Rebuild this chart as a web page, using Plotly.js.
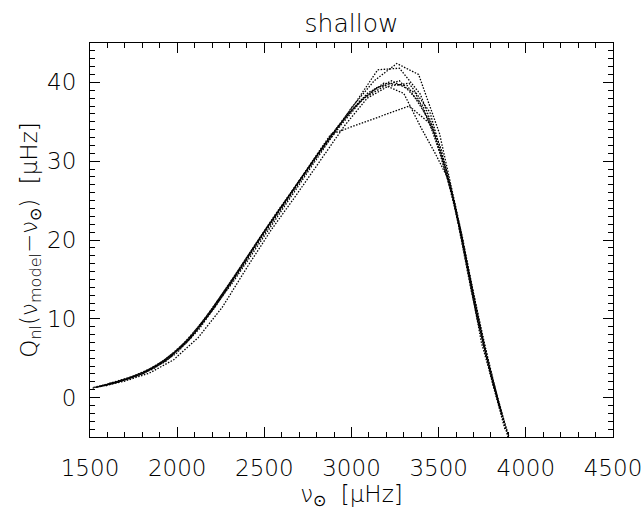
<!DOCTYPE html>
<html>
<head>
<meta charset="utf-8">
<script src="https://cdn.plot.ly/plotly-3.0.1.min.js"></script>
<style>html,body{margin:0;padding:0;background:#fff}#chart{width:641px;height:514px}</style>
</head>
<body>
<div id="chart"></div>
<script>
// Frequencies (muHz) and surface-corrected differences (muHz) for several mode sets
const nuA = [1520, 1655, 1790, 1925, 2060, 2195, 2330, 2465, 2600, 2735, 2870, 3005, 3140, 3275, 3410, 3545, 3680, 3815, 3950];
const qA  = [1.3, 2.0, 3.0, 4.7, 7.3, 11.1, 15.5, 20.0, 24.3, 28.6, 32.9, 36.6, 39.3, 40.2, 37.0, 28.9, 15.1, 1.6, -8.5];

const nuB = [1565, 1700, 1835, 1970, 2105, 2240, 2375, 2510, 2645, 2780, 2915, 3050, 3185, 3320, 3455, 3590, 3725, 3860];
const qB  = [1.5, 2.3, 3.5, 5.4, 8.4, 12.5, 16.7, 21.4, 25.7, 30.1, 34.2, 37.7, 39.9, 39.6, 34.9, 24.9, 10.2, -2.0];

const nuC = [1610, 1745, 1880, 2015, 2150, 2285, 2420, 2555, 2690, 2825, 2960, 3095, 3230, 3365, 3500, 3635, 3770, 3905];
const qC  = [1.8, 2.7, 4.0, 6.3, 9.7, 14.0, 18.5, 23.0, 27.2, 31.5, 35.4, 38.7, 40.2, 38.7, 32.3, 20.2, 5.6, -5.4];

const nuD = [1515, 1650, 1785, 1920, 2055, 2190, 2325, 2460, 2595, 2730, 2865, 3000, 3130, 3260, 3385, 3505, 3625, 3745, 3865];
const qD  = [1.2, 1.9, 2.9, 4.5, 7.0, 10.8, 14.8, 19.2, 23.6, 28.0, 32.5, 36.8, 40.2, 42.4, 41.0, 33.5, 21.5, 7.0, -2.4];

const nuE = [1540, 1675, 1810, 1945, 2080, 2215, 2350, 2485, 2620, 2755, 2890, 3020, 3150, 3275, 3395, 3515, 3635, 3755, 3875];
const qE  = [1.3, 2.1, 3.1, 4.9, 7.6, 11.4, 15.9, 20.5, 24.8, 29.2, 33.5, 37.3, 41.6, 41.8, 38.5, 31.5, 20.5, 7.0, -3.2];

const nuF = [1590, 1725, 1860, 1995, 2130, 2265, 2400, 2535, 2670, 2805, 2940, 3070, 3195, 3300, 3400, 3480, 3560, 3640, 3720, 3800, 3880];
const qF  = [1.5, 2.4, 3.6, 5.6, 8.8, 13.2, 17.5, 22.0, 26.3, 30.7, 34.6, 38.0, 39.6, 38.6, 34.2, 31.0, 27.5, 19.6, 10.3, 2.6, -4.0];

const nuG = [1530, 1665, 1800, 1935, 2070, 2205, 2340, 2475, 2610, 2745, 2880, 3330, 3460, 3590, 3720, 3850];
const qG  = [1.3, 2.0, 3.0, 4.6, 7.4, 11.2, 15.7, 20.3, 24.6, 29.0, 33.4, 37.0, 34.6, 24.7, 10.0, -1.4];

const nuH = [1560, 1700, 1840, 1980, 2120, 2260, 2400, 2540, 2680, 2820, 2960, 3090, 3210, 3330, 3450, 3570, 3690, 3810, 3930];
const qH  = [1.4, 2.1, 3.1, 4.8, 7.6, 11.5, 16.5, 21.3, 25.6, 30.1, 34.5, 38.0, 39.5, 39.9, 36.2, 26.8, 13.2, 1.8, -7.5];

const xTickVals = [1500, 2000, 2500, 3000, 3500, 4000, 4500];
const yTickVals = [0, 10, 20, 30, 40];

const sets = [[nuA,qA],[nuB,qB],[nuC,qC],[nuD,qD],[nuE,qE],[nuF,qF],[nuG,qG],[nuH,qH]];
const traces = sets.map(s => ({
  x: s[0], y: s[1], type: 'scatter', mode: 'lines',
  line: {color: 'black', width: 1.3, dash: '1.5px,1.5px'},
  hoverinfo: 'skip', showlegend: false
}));

const font = {family: 'DejaVu Sans', size: 23, color: 'black', weight: 200};

const layout = {
  width: 641, height: 514,
  margin: {l: 90, r: 28, t: 43, b: 77},
  paper_bgcolor: 'white', plot_bgcolor: 'white',
  font: font,
  showlegend: false,
  title: {text: 'shallow', x: 0.5, xanchor: 'center', xref: 'paper', y: 1 - 23/514, yanchor: 'middle', yref: 'container', font: {family: 'DejaVu Sans', size: 25, color: 'black', weight: 200}},
  xaxis: {
    range: [1500, 4500], tickmode: 'array', tickvals: xTickVals,
    ticks: 'inside', ticklen: 10, tickwidth: 1, tickcolor: 'black',
    minor: {dtick: 100, tick0: 1500, ticks: 'inside', ticklen: 5, tickwidth: 1, tickcolor: 'black'},
    showline: true, linecolor: 'black', linewidth: 1, mirror: 'allticks',
    showgrid: false, zeroline: false, tickfont: font, ticklabelstandoff: 10,
    ticklabeloverflow: 'allow',
    title: {text: 'ν<sub>⊙</sub>  [μHz]', font: font, standoff: 4}
  },
  yaxis: {
    range: [-5, 45], tickmode: 'array', tickvals: yTickVals,
    ticks: 'inside', ticklen: 10, tickwidth: 1, tickcolor: 'black',
    minor: {dtick: 1, tick0: 0, ticks: 'inside', ticklen: 5, tickwidth: 1, tickcolor: 'black'},
    showline: true, linecolor: 'black', linewidth: 1, mirror: 'allticks',
    showgrid: false, zeroline: false, tickfont: font, ticklabelstandoff: 8,
    title: {text: 'Q<sub>nl</sub>(ν<sub>model</sub>−ν<sub>⊙</sub>)  [μHz]', font: font, standoff: 3}
  }
};

Plotly.newPlot('chart', traces, layout, {staticPlot: true, displayModeBar: false});
</script>
</body>
</html>
